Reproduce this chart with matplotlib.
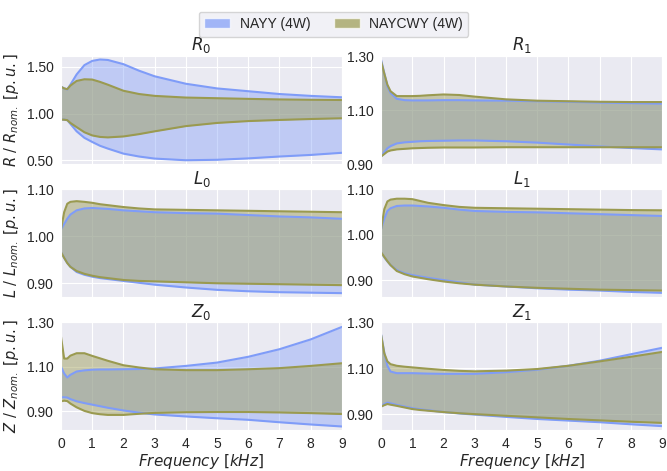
import numpy as np
import matplotlib
matplotlib.use("Agg")
import matplotlib.pyplot as plt
import seaborn as sns
from matplotlib.patches import Patch

sns.set_style("darkgrid")
plt.rcParams['font.family'] = ['Liberation Sans', 'DejaVu Sans']

# frequency grid [kHz]
freq = [0, 0.1, 0.2, 0.3, 0.5, 0.75, 1, 1.25, 1.5, 2, 2.5, 3, 4, 5, 6, 7, 8, 9]

# NAYY (4W) upper / lower bounds
nayy_r0_hi = [1.29, 1.27, 1.26, 1.31, 1.42, 1.52, 1.565, 1.58, 1.575, 1.53, 1.46, 1.40, 1.32, 1.27, 1.24, 1.21, 1.19, 1.175]
nayy_r0_lo = [0.936, 0.935, 0.93, 0.89, 0.81, 0.74, 0.696, 0.655, 0.625, 0.571, 0.54, 0.518, 0.50, 0.505, 0.52, 0.54, 0.557, 0.58]
nayy_r1_hi = [1.285, 1.237, 1.188, 1.164, 1.142, 1.137, 1.136, 1.136, 1.136, 1.137, 1.137, 1.136, 1.135, 1.133, 1.131, 1.128, 1.126, 1.124]
nayy_r1_lo = [0.929, 0.945, 0.959, 0.967, 0.977, 0.981, 0.983, 0.985, 0.986, 0.987, 0.988, 0.988, 0.985, 0.980, 0.973, 0.966, 0.960, 0.955]
nayy_l0_hi = [1.015, 1.026, 1.037, 1.046, 1.055, 1.059, 1.060, 1.059, 1.058, 1.055, 1.053, 1.051, 1.049, 1.048, 1.045, 1.042, 1.040, 1.037]
nayy_l0_lo = [0.966, 0.954, 0.943, 0.935, 0.924, 0.918, 0.914, 0.911, 0.909, 0.905, 0.901, 0.897, 0.891, 0.886, 0.883, 0.881, 0.880, 0.879]
nayy_l1_hi = [1.013, 1.035, 1.052, 1.058, 1.063, 1.064, 1.064, 1.063, 1.062, 1.059, 1.055, 1.052, 1.050, 1.049, 1.047, 1.045, 1.043, 1.041]
nayy_l1_lo = [0.961, 0.950, 0.941, 0.933, 0.922, 0.915, 0.911, 0.908, 0.905, 0.900, 0.895, 0.890, 0.886, 0.882, 0.879, 0.877, 0.874, 0.872]
nayy_z0_hi = [1.10, 1.07, 1.052, 1.064, 1.079, 1.084, 1.087, 1.088, 1.088, 1.089, 1.090, 1.0925, 1.104, 1.119, 1.145, 1.179, 1.223, 1.279]
nayy_z0_lo = [0.963, 0.963, 0.962, 0.955, 0.945, 0.937, 0.930, 0.923, 0.916, 0.904, 0.894, 0.886, 0.877, 0.869, 0.862, 0.851, 0.841, 0.832]
nayy_z1_hi = [1.246, 1.168, 1.111, 1.086, 1.079, 1.079, 1.079, 1.078, 1.077, 1.076, 1.076, 1.076, 1.083, 1.094, 1.111, 1.133, 1.161, 1.189]
nayy_z1_lo = [0.934, 0.945, 0.951, 0.948, 0.941, 0.934, 0.927, 0.922, 0.918, 0.910, 0.904, 0.899, 0.889, 0.880, 0.873, 0.866, 0.857, 0.849]

# NAYCWY (4W) upper / lower bounds
naycwy_r0_hi = [1.287, 1.27, 1.262, 1.30, 1.35, 1.368, 1.365, 1.34, 1.31, 1.245, 1.21, 1.19, 1.172, 1.165, 1.158, 1.152, 1.148, 1.146]
naycwy_r0_lo = [0.936, 0.935, 0.93, 0.90, 0.855, 0.80, 0.766, 0.75, 0.745, 0.755, 0.78, 0.81, 0.866, 0.90, 0.92, 0.932, 0.942, 0.95]
naycwy_r1_hi = [1.279, 1.235, 1.194, 1.170, 1.152, 1.152, 1.152, 1.153, 1.155, 1.158, 1.156, 1.150, 1.140, 1.135, 1.133, 1.131, 1.130, 1.130]
naycwy_r1_lo = [0.929, 0.938, 0.947, 0.951, 0.955, 0.957, 0.959, 0.960, 0.961, 0.962, 0.962, 0.962, 0.963, 0.963, 0.963, 0.963, 0.963, 0.963]
naycwy_l0_hi = [1.015, 1.051, 1.069, 1.073, 1.0745, 1.073, 1.071, 1.068, 1.066, 1.062, 1.059, 1.057, 1.056, 1.055, 1.054, 1.053, 1.052, 1.051]
naycwy_l0_lo = [0.966, 0.954, 0.943, 0.935, 0.926, 0.920, 0.916, 0.913, 0.911, 0.907, 0.905, 0.904, 0.902, 0.900, 0.899, 0.898, 0.897, 0.896]
naycwy_l1_hi = [1.013, 1.056, 1.073, 1.077, 1.079, 1.079, 1.078, 1.074, 1.070, 1.065, 1.061, 1.059, 1.058, 1.057, 1.056, 1.055, 1.054, 1.0535]
naycwy_l1_lo = [0.961, 0.951, 0.9415, 0.933, 0.920, 0.913, 0.908, 0.905, 0.902, 0.897, 0.893, 0.890, 0.886, 0.883, 0.881, 0.879, 0.878, 0.877]
naycwy_z0_hi = [1.234, 1.137, 1.137, 1.150, 1.161, 1.161, 1.149, 1.138, 1.127, 1.107, 1.097, 1.089, 1.085, 1.085, 1.089, 1.094, 1.104, 1.116]
naycwy_z0_lo = [0.945, 0.948, 0.946, 0.935, 0.918, 0.902, 0.892, 0.887, 0.884, 0.884, 0.889, 0.893, 0.896, 0.897, 0.897, 0.895, 0.892, 0.888]
naycwy_z1_hi = [1.243, 1.165, 1.130, 1.118, 1.111, 1.107, 1.104, 1.101, 1.098, 1.093, 1.089, 1.087, 1.090, 1.097, 1.111, 1.130, 1.150, 1.171]
naycwy_z1_lo = [0.934, 0.940, 0.945, 0.942, 0.937, 0.930, 0.923, 0.919, 0.916, 0.910, 0.905, 0.901, 0.894, 0.887, 0.880, 0.874, 0.868, 0.863]

titles = [r'$R_0$', r'$R_1$', r'$L_0$', r'$L_1$', r'$Z_0$', r'$Z_1$']
ylabels = [r'$R\ /\ R_{nom.}\ [p.u.]$', r'$L\ /\ L_{nom.}\ [p.u.]$', r'$Z\ /\ Z_{nom.}\ [p.u.]$']
ylims = [(0.457, 1.617), (0.9, 1.3), (0.870, 1.10), (0.862, 1.10), (0.814, 1.30), (0.83, 1.30)]
yticks = [[0.5, 1.0, 1.5], [0.9, 1.1, 1.3], [0.9, 1.0, 1.1], [0.9, 1.0, 1.1], [0.9, 1.1, 1.3], [0.9, 1.1, 1.3]]

nayy = [(nayy_r0_lo, nayy_r0_hi), (nayy_r1_lo, nayy_r1_hi), (nayy_l0_lo, nayy_l0_hi),
        (nayy_l1_lo, nayy_l1_hi), (nayy_z0_lo, nayy_z0_hi), (nayy_z1_lo, nayy_z1_hi)]
naycwy = [(naycwy_r0_lo, naycwy_r0_hi), (naycwy_r1_lo, naycwy_r1_hi), (naycwy_l0_lo, naycwy_l0_hi),
          (naycwy_l1_lo, naycwy_l1_hi), (naycwy_z0_lo, naycwy_z0_hi), (naycwy_z1_lo, naycwy_z1_hi)]

blue = '#7f9cf8'
olive = '#9a9a50'

fig, axes = plt.subplots(3, 2, figsize=(6.67, 4.71), dpi=100, sharex=True)
fig.subplots_adjust(left=0.0915, right=0.9925, top=0.881, bottom=0.086, wspace=0.14, hspace=0.23)

for i, ax in enumerate(axes.flat):
    lo, hi = nayy[i]
    ax.fill_between(freq, lo, hi, color=blue, alpha=0.4, lw=0)
    ax.plot(freq, lo, color=blue, lw=1.5)
    ax.plot(freq, hi, color=blue, lw=1.5)
    lo, hi = naycwy[i]
    ax.fill_between(freq, lo, hi, color=olive, alpha=0.45, lw=0)
    ax.plot(freq, lo, color=olive, lw=1.5)
    ax.plot(freq, hi, color=olive, lw=1.5)
    ax.set_title(titles[i], fontsize=12, pad=4)
    ax.set_xlim(0, 9)
    ax.set_xticks(range(10))
    ax.set_ylim(*ylims[i])
    ax.set_yticks(yticks[i])
    ax.set_yticklabels(['%.2f' % v for v in yticks[i]])
    ax.tick_params(axis='y', labelsize=10, pad=2)
    ax.tick_params(axis='x', labelsize=10, pad=1.5)
    if i % 2 == 0:
        ax.set_ylabel(ylabels[i // 2], fontsize=10.5, labelpad=4)
    if i >= 4:
        ax.set_xlabel(r'$Frequency\ [kHz]$', fontsize=11, labelpad=0.5)

handles = [Patch(facecolor=blue, alpha=0.7, label='NAYY (4W)'),
           Patch(facecolor=olive, alpha=0.7, label='NAYCWY (4W)')]
fig.legend(handles=handles, loc='upper center', bbox_to_anchor=(0.5, 0.99), ncol=2,
           fontsize=10, frameon=True, facecolor='#eeeef4', edgecolor='#cccccc',
           handlelength=1.9, handletextpad=0.65, columnspacing=1.7)

plt.savefig('out.png', dpi=100)
